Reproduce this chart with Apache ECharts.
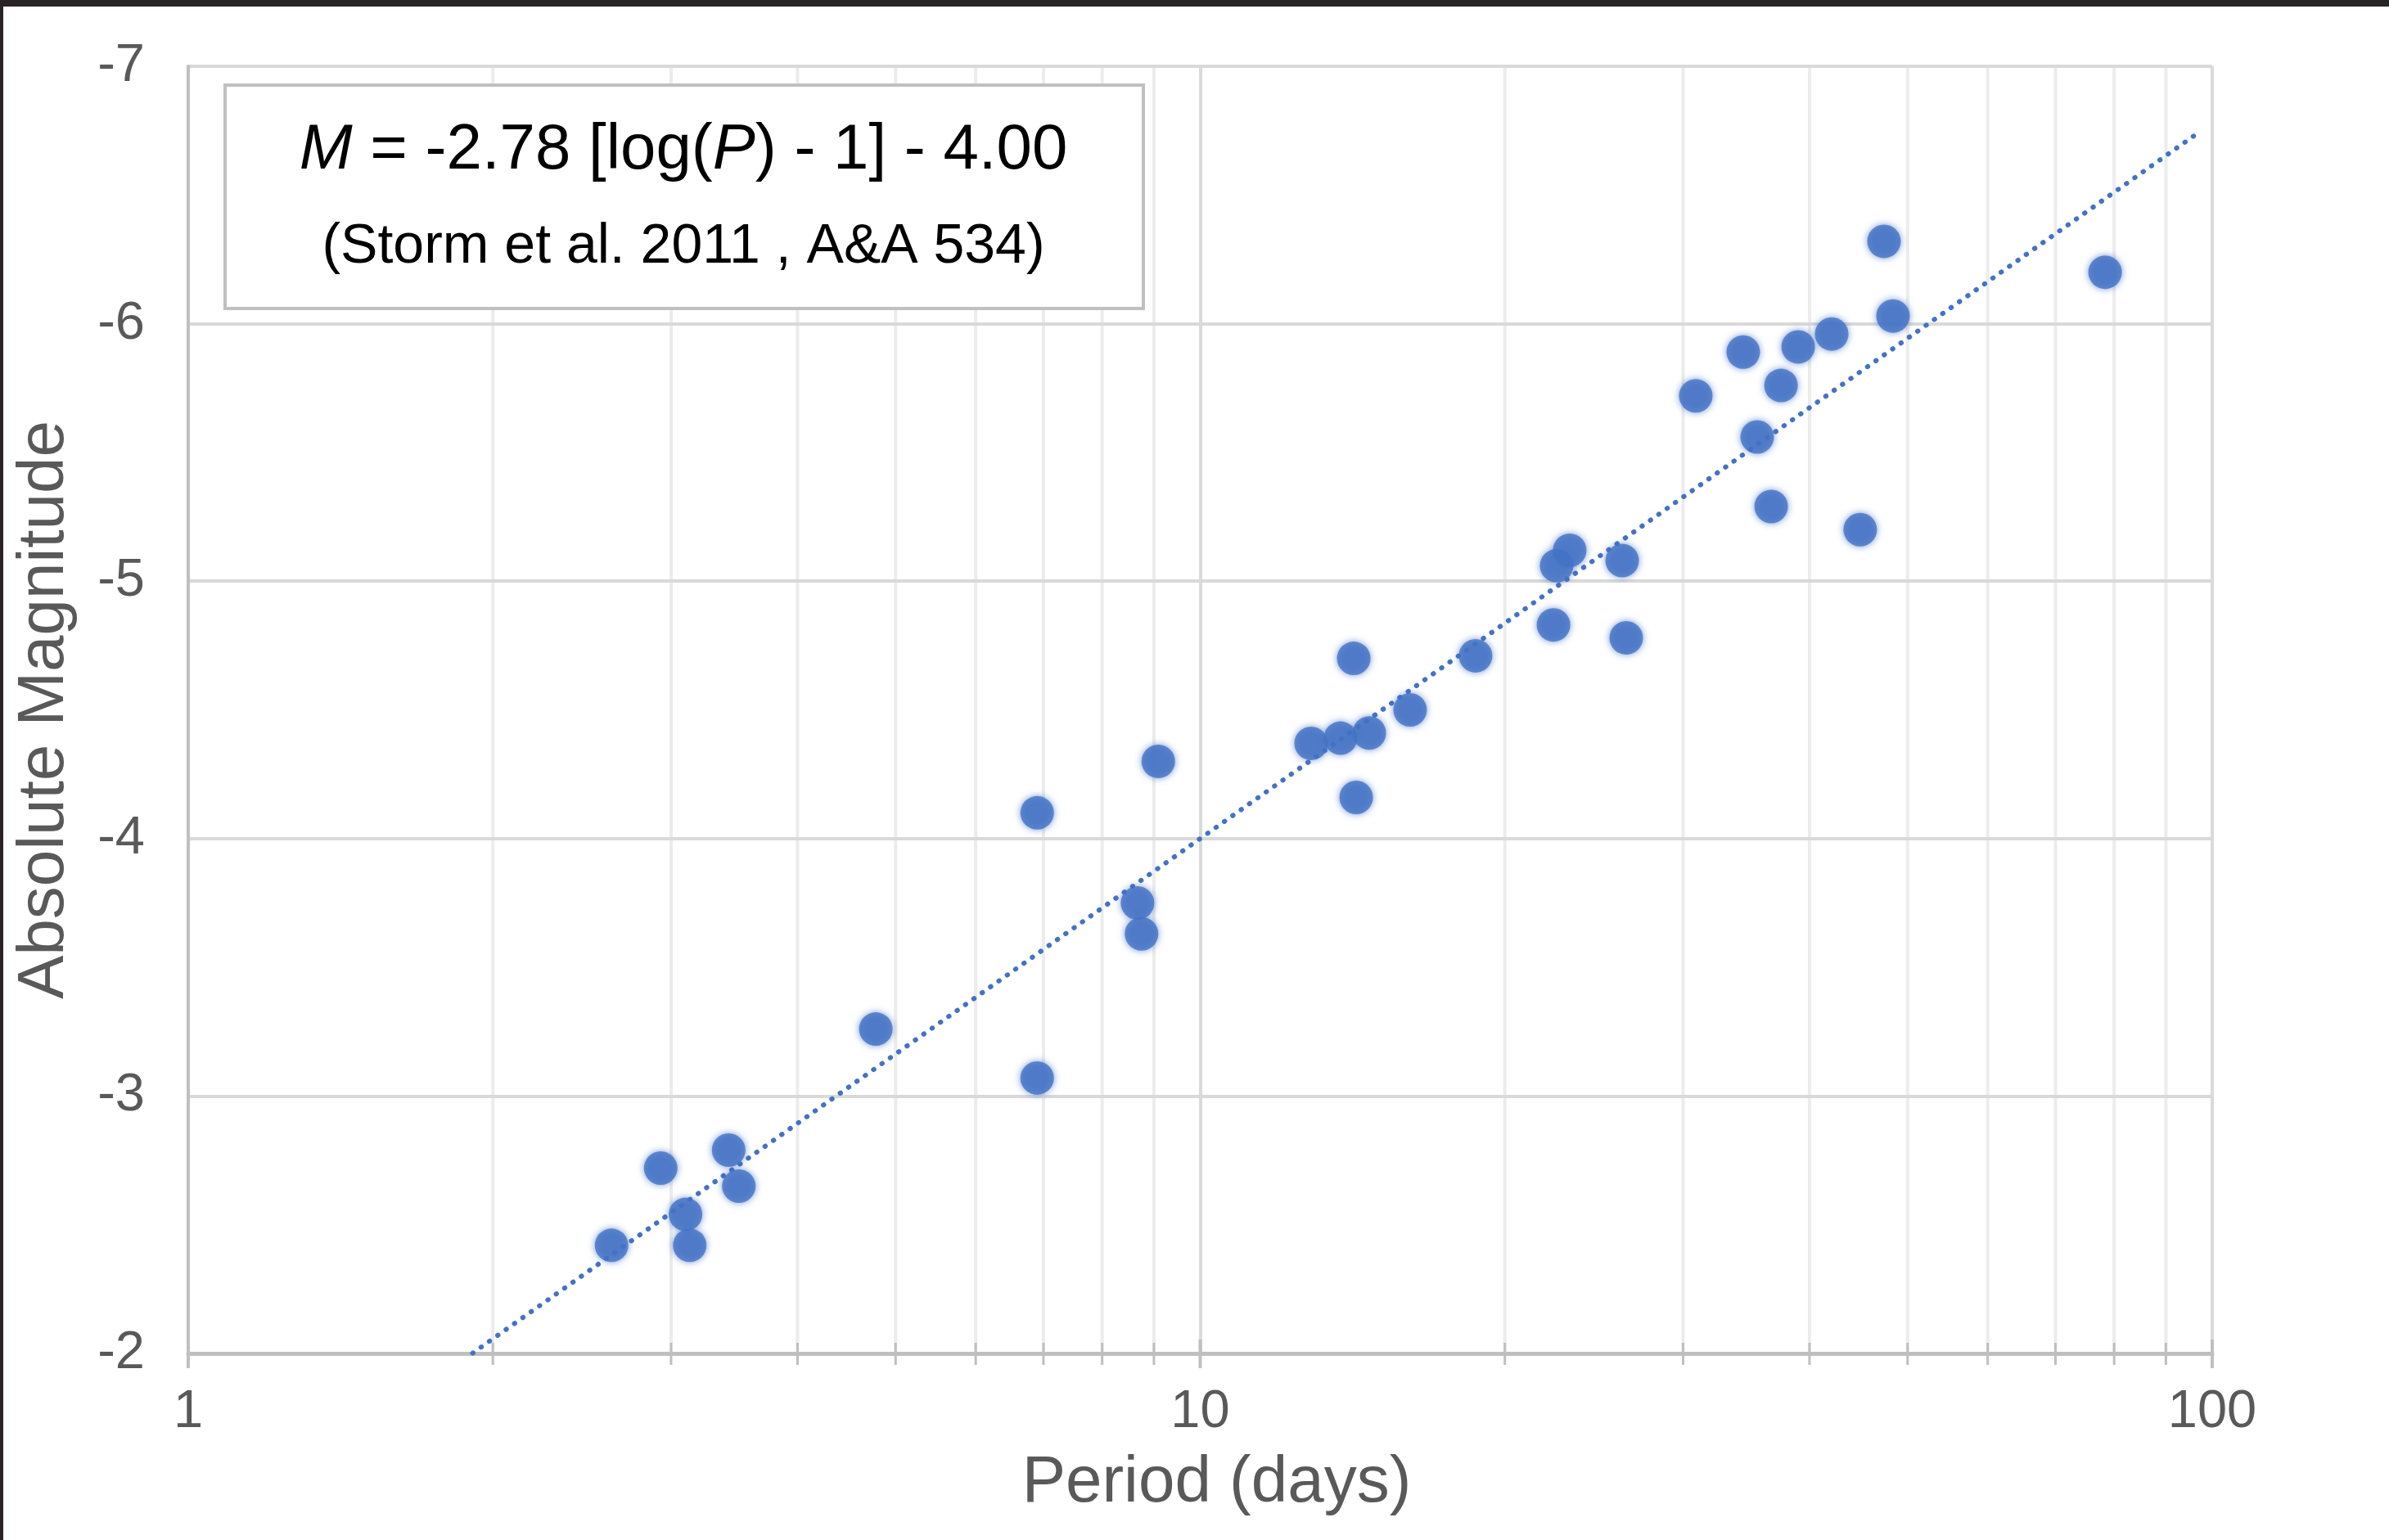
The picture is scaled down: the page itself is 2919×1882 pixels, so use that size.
<!DOCTYPE html>
<html>
<head>
<meta charset="utf-8">
<script src="https://cdn.jsdelivr.net/npm/echarts@6/dist/echarts.min.js"></script>
<style>
  html, body { margin: 0; padding: 0; background: #ffffff; }
  #chart { width: 2919px; height: 1882px; }
</style>
</head>
<body>
<div id="chart"></div>
<script>
// Cepheid period–luminosity sample: pulsation period (days) and absolute magnitude
const periods = [2.62, 2.93, 3.10, 3.13, 3.42, 3.50, 4.78, 6.90, 6.90, 8.67, 8.75, 9.09,
  12.87, 13.76, 14.69, 14.18, 14.26, 16.12, 18.71, 22.34, 22.50, 23.18, 26.12, 26.36,
  30.88, 34.40, 35.51, 36.66, 37.49, 38.98, 42.07, 44.89, 47.39, 48.37, 78.37];
const magnitudes = [-2.42, -2.72, -2.54, -2.42, -2.79, -2.65, -3.26, -4.10, -3.07, -3.75, -3.63, -4.30,
  -4.37, -4.39, -4.41, -4.70, -4.16, -4.50, -4.71, -4.83, -5.06, -5.12, -5.08, -4.78,
  -5.72, -5.89, -5.56, -5.29, -5.76, -5.91, -5.96, -5.20, -6.32, -6.03, -6.20];

// Fitted relation: M = slope [log(P) - 1] + zeroPoint
const slope = -2.78;
const zeroPoint = -4.00;
const fitRange = [1.91, 97.2];

// Axis ticks
const majorPeriods = [1, 10, 100];
const minorPeriods = [2, 3, 4, 5, 6, 7, 8, 9, 20, 30, 40, 50, 60, 70, 80, 90];
const magRange = [-7, -2];

const FONT = '"Liberation Sans", Arial, Helvetica, sans-serif';
const BLUE = '#4472C4';
const TEXT_GRAY = '#595959';

const fitLine = fitRange.map(p => [p, slope * (Math.log10(p) - 1) + zeroPoint]);
const points = periods.map((p, i) => [p, magnitudes[i]]);
const tickData = majorPeriods.map(p => [p, magRange[1], 1])
  .concat(minorPeriods.map(p => [p, magRange[1], 0]));

const chart = echarts.init(document.getElementById('chart'), null, { renderer: 'canvas' });

chart.setOption({
  backgroundColor: '#ffffff',
  animation: false,
  grid: { left: 230, right: 216, top: 81, bottom: 228, containLabel: false, outerBoundsMode: 'none' },
  xAxis: {
    type: 'log',
    logBase: 10,
    min: 1,
    max: 100,
    name: 'Period (days)',
    nameLocation: 'middle',
    nameGap: 119,
    nameTextStyle: { fontSize: 80, color: TEXT_GRAY, fontFamily: FONT, padding: [0, 0, 0, 40] },
    axisLine: { show: true, lineStyle: { color: '#bfbfbf', width: 5 } },
    axisTick: { show: false },
    axisLabel: { fontSize: 65, color: TEXT_GRAY, fontFamily: FONT, margin: 40 },
    splitLine: { show: true, lineStyle: { color: '#dadada', width: 4 } }
  },
  yAxis: {
    type: 'value',
    min: magRange[0],
    max: magRange[1],
    interval: 1,
    inverse: true,
    name: 'Absolute Magnitude',
    nameLocation: 'middle',
    nameRotate: 90,
    nameGap: 135,
    nameTextStyle: { fontSize: 80, color: TEXT_GRAY, fontFamily: FONT },
    axisLine: { show: true, lineStyle: { color: '#bfbfbf', width: 4 } },
    axisTick: { show: false },
    axisLabel: { fontSize: 65, color: TEXT_GRAY, fontFamily: FONT, margin: 53 },
    splitLine: { show: true, lineStyle: { color: '#d9d9d9', width: 4 } }
  },
  series: [
    {
      // minor vertical gridlines at 2..9, 20..90
      type: 'custom',
      silent: true,
      z: -1,
      data: minorPeriods.map(p => [p, magRange[1]]),
      encode: { x: 0, y: 1 },
      renderItem: function (params, api) {
        const p = api.value(0);
        const a = api.coord([p, magRange[0]]);
        const b = api.coord([p, magRange[1]]);
        return {
          type: 'line',
          shape: { x1: a[0], y1: a[1], x2: b[0], y2: b[1] },
          style: { stroke: '#ececec', lineWidth: 4 }
        };
      }
    },
    {
      // tick marks crossing the period axis
      type: 'custom',
      silent: true,
      z: 3,
      data: tickData,
      encode: { x: 0, y: 1 },
      renderItem: function (params, api) {
        const p = api.value(0);
        const major = api.value(2) === 1;
        const c = api.coord([p, magRange[1]]);
        return {
          type: 'line',
          shape: { x1: c[0], y1: c[1] - (major ? 17 : 13), x2: c[0], y2: c[1] + (major ? 18 : 14) },
          style: { stroke: '#bfbfbf', lineWidth: major ? 4 : 3 }
        };
      }
    },
    {
      type: 'line',
      data: fitLine,
      showSymbol: false,
      silent: true,
      z: 4,
      lineStyle: { color: BLUE, width: 6, type: [0.5, 12], cap: 'round' }
    },
    {
      type: 'scatter',
      data: points,
      symbol: 'circle',
      symbolSize: 41,
      z: 5,
      itemStyle: { color: BLUE, shadowBlur: 8, shadowColor: 'rgba(68,114,196,0.9)' }
    }
  ],
  graphic: [
    { type: 'rect', z: 100, shape: { x: 0, y: 0, width: 2919, height: 8 }, style: { fill: '#2a2326' } },
    { type: 'rect', z: 100, shape: { x: 0, y: 0, width: 4, height: 1882 }, style: { fill: '#2a2326' } },
    {
      type: 'rect', z: 50,
      shape: { x: 275, y: 104, width: 1122, height: 273 },
      style: { fill: '#ffffff', stroke: '#c0c0c0', lineWidth: 4 }
    },
    {
      type: 'text', z: 51, x: 835, y: 184,
      style: {
        text: '{i|M} = -2.78 [log({i|P}) - 1] - 4.00',
        fontSize: 78, fontFamily: FONT, fill: '#000000',
        align: 'center', verticalAlign: 'middle',
        textAlign: 'center', textVerticalAlign: 'middle',
        rich: { i: { fontStyle: 'italic', fontSize: 78, fontFamily: FONT, fill: '#000000', color: '#000000' } }
      }
    },
    {
      type: 'text', z: 51, x: 835, y: 302,
      style: {
        text: '(Storm et al. 2011 , A&A 534)',
        fontSize: 68, fontFamily: FONT, fill: '#000000',
        align: 'center', verticalAlign: 'middle',
        textAlign: 'center', textVerticalAlign: 'middle'
      }
    }
  ]
});
</script>
</body>
</html>
